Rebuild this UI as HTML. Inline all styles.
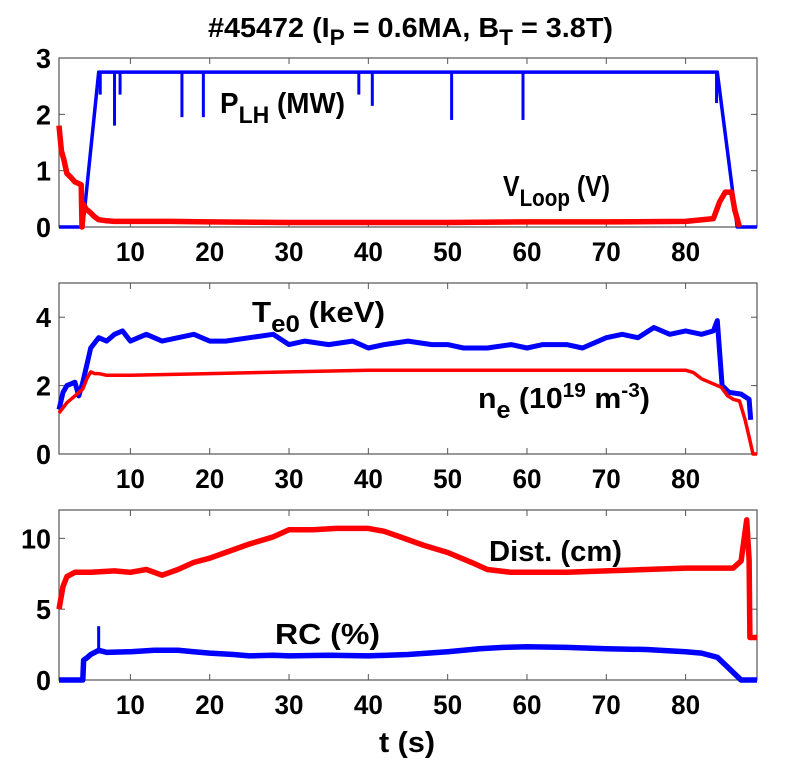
<!DOCTYPE html>
<html><head><meta charset="utf-8"><style>
body{margin:0;background:#fff;}
svg text{font-family:"Liberation Sans Narrow","Liberation Sans",sans-serif;font-weight:bold;fill:#000;}
</style></head><body>
<svg id="chart" width="785" height="765" xmlns="http://www.w3.org/2000/svg">
<text x="208" y="37" font-size="28" textLength="405" lengthAdjust="spacingAndGlyphs">#45472 (I<tspan dy="8" font-size="22">P</tspan><tspan dy="-8"> = 0.6MA, B</tspan><tspan dy="8" font-size="22">T</tspan><tspan dy="-8"> = 3.8T)</tspan></text>
<g id="plots"></g>
<text x="220" y="113" font-size="29" textLength="125" lengthAdjust="spacingAndGlyphs">P<tspan dy="10" font-size="24">LH</tspan><tspan dy="-10"> (MW)</tspan></text>
<text x="503" y="196" font-size="29" textLength="107" lengthAdjust="spacingAndGlyphs">V<tspan dy="10" font-size="24">Loop</tspan><tspan dy="-10"> (V)</tspan></text>
<text x="252" y="322" font-size="29" textLength="133" lengthAdjust="spacingAndGlyphs">T<tspan dy="10" font-size="24">e0</tspan><tspan dy="-10"> (keV)</tspan></text>
<text x="478" y="408" font-size="29" font-weight="normal" textLength="172" lengthAdjust="spacingAndGlyphs">n<tspan dy="10" font-size="24">e</tspan><tspan dy="-10"> (10</tspan><tspan dy="-11" font-size="20">19</tspan><tspan dy="11"> m</tspan><tspan dy="-11" font-size="20">-3</tspan><tspan dy="11">)</tspan></text>
<text x="489" y="561" font-size="29" textLength="133" lengthAdjust="spacingAndGlyphs">Dist. (cm)</text>
<text x="275" y="644" font-size="29" textLength="105" lengthAdjust="spacingAndGlyphs">RC (%)</text>
<text x="379" y="752" font-size="29" textLength="56" lengthAdjust="spacingAndGlyphs">t (s)</text>
</svg>
<script>
const xTicks=[10,20,30,40,50,60,70,80];
const plhT=[1,4,6,84,86.5,89];
const plhV=[0,0,2.75,2.75,0,0];
const plhSpikeT=[6.2,8,8.7,16.5,19.2,38.8,40.5,50.5,59.5,83.9];
const plhSpikeV=[2.35,1.8,2.35,1.95,1.95,2.35,2.15,1.9,1.9,2.2];
const vlT=[1,1.3,1.6,2,2.5,3,3.5,3.8,3.9,4.1,4.4,5,5.5,6,7,8,10,15,20,30,40,50,60,70,80,83.5,84.3,85,85.8,86.2,86.8];
const vlV=[1.8,1.35,1.2,0.95,0.88,0.8,0.77,0.75,0,0.4,0.32,0.25,0.18,0.13,0.11,0.1,0.1,0.1,0.09,0.08,0.08,0.08,0.09,0.09,0.1,0.15,0.45,0.62,0.62,0.3,0];
const teT=[1,1.5,2,3,3.5,4,4.5,5,6,7,8,9,10,11,12,14,16,18,20,22,25,28,30,32,35,38,40,42,45,48,50,52,55,58,60,62,65,67,70,72,74,76,78,80,82,83.5,84,84.6,85.5,87,88,88.2];
const teV=[1.3,1.8,2.0,2.1,1.7,2.1,2.6,3.1,3.4,3.3,3.5,3.6,3.3,3.4,3.5,3.3,3.4,3.5,3.3,3.3,3.4,3.5,3.2,3.3,3.2,3.3,3.1,3.2,3.3,3.2,3.2,3.1,3.1,3.2,3.1,3.2,3.2,3.1,3.4,3.5,3.4,3.7,3.5,3.6,3.5,3.6,3.9,2.0,1.8,1.75,1.6,1.0];
const neT=[1,2,3,4,4.5,5,5.5,6,7,10,20,30,40,50,60,70,80,81,82,83,84.5,85.3,86,86.8,87.5,88,88.5,89];
const neV=[1.2,1.5,1.7,1.9,2.2,2.4,2.35,2.35,2.3,2.3,2.35,2.4,2.45,2.45,2.45,2.45,2.45,2.38,2.2,2.1,1.95,1.7,1.6,1.55,1.0,0.5,0,0];
const diT=[1,1.5,2,3,5,8,10,12,14,16,18,20,22,25,28,30,33,36,40,42,44,47,50,53,55,58,60,65,70,75,80,84,86,87,87.7,88,88.1,89];
const diV=[5,6.6,7.3,7.6,7.6,7.7,7.6,7.8,7.4,7.8,8.3,8.6,9.0,9.6,10.1,10.6,10.6,10.7,10.7,10.5,10.1,9.5,9.0,8.3,7.8,7.6,7.6,7.6,7.7,7.8,7.9,7.9,7.9,8.4,11.3,8.5,3,3];
const rcT=[1,4,4.1,4.6,5,6,7,10,13,16,18,20,23,25,28,30,35,40,45,50,54,57,60,65,70,75,80,82,84,87,89];
const rcV=[0,0,1.4,1.6,1.8,2.1,1.95,2.0,2.1,2.1,2.0,1.9,1.8,1.7,1.75,1.7,1.75,1.7,1.8,2.0,2.2,2.3,2.35,2.3,2.2,2.15,2.0,1.9,1.6,0,0];
const NS="http://www.w3.org/2000/svg";
const X0=59,X1=757,TMIN=1,TMAX=89;
function sx(t){return X0+(t-TMIN)/(TMAX-TMIN)*(X1-X0);}
const g=document.getElementById('plots');
function mk(tag,attrs){const e=document.createElementNS(NS,tag);for(const k in attrs)e.setAttribute(k,attrs[k]);g.appendChild(e);return e;}
function panel(name,top,bot,ymax,yTicks){
  const sy=v=>bot-(v/ymax)*(bot-top);
  const fr=mk('rect',{x:X0,y:top,width:X1-X0,height:bot-top,fill:'none',stroke:'#555','stroke-width':1.2});
  
  
  xTicks.forEach(t=>{
    const x=sx(t);
    const a=mk('line',{x1:x,x2:x,y1:bot,y2:bot-6,stroke:'#555'});
    
    
    const b=mk('line',{x1:x,x2:x,y1:top,y2:top+6,stroke:'#555'});
    
    
    const l=mk('text',{x:x,y:bot+34,'text-anchor':'middle','font-size':27,textLength:29,lengthAdjust:'spacingAndGlyphs'});
    l.textContent=t;
    
    
  });
  yTicks.forEach(v=>{
    const y=sy(v);
    const a=mk('line',{x1:X0,x2:X0+6,y1:y,y2:y,stroke:'#555'});
    
    
    const b=mk('line',{x1:X1,x2:X1-6,y1:y,y2:y,stroke:'#555'});
    
    
    const w=String(v).length*15;
    const l=mk('text',{x:51,y:y+10,'text-anchor':'end','font-size':28,textLength:w,lengthAdjust:'spacingAndGlyphs'});
    l.textContent=v;
    
    
  });
  return sy;
}
function line(T,V,sy,color,w,name){
  const d=T.map((t,i)=>(i?'L':'M')+sx(t).toFixed(1)+','+sy(V[i]).toFixed(1)).join('');
  const p=mk('path',{d:d,fill:'none',stroke:color,'stroke-width':w,'stroke-linejoin':'round'});
  
  
}
const sy1=panel('top-panel',58,227,3,[0,1,2,3]);
line(plhT,plhV,sy1,'#0000ff',3.5,'plh-line');
plhSpikeT.forEach((t,i)=>{
  const s=mk('line',{x1:sx(t),x2:sx(t),y1:sy1(2.75),y2:sy1(plhSpikeV[i]),stroke:'#0000ff','stroke-width':3});
  
  
});
line(vlT,vlV,sy1,'#ff0000',5.5,'vloop-line');
const sy2=panel('middle-panel',283,454,5,[0,2,4]);
line(teT,teV,sy2,'#0000ff',5,'te0-line');
line(neT,neV,sy2,'#ff0000',3.5,'ne-line');
const sy3=panel('bottom-panel',510,680,12,[0,5,10]);
line(diT,diV,sy3,'#ff0000',5.5,'dist-line');
line(rcT,rcV,sy3,'#0000ff',5.5,'rc-line');
const sp=mk('line',{x1:sx(6),x2:sx(6),y1:sy3(2.1),y2:sy3(3.8),stroke:'#0000ff','stroke-width':3});


</script>
</body></html>
